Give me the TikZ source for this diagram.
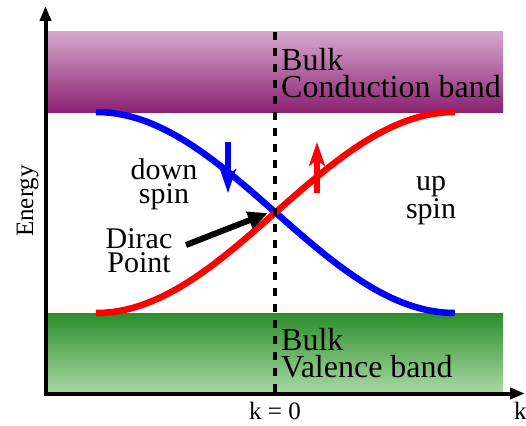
\documentclass[tikz,border=0pt]{standalone}
\usepackage{fontspec}
\setmainfont{Liberation Serif}
\usetikzlibrary{arrows.meta}
\definecolor{cbtop}{HTML}{D6A8CC}
\definecolor{cbbot}{HTML}{8B2173}
\definecolor{vbtop}{HTML}{2A8E2A}
\definecolor{vbbot}{HTML}{A8D8A2}
\definecolor{spinblue}{HTML}{0000FF}
\definecolor{spinred}{HTML}{FF0000}
\tikzset{
  lbl/.style={inner sep=0pt, font=\fontsize{30}{24}\selectfont},
  bandlbl/.style={inner sep=0pt, font=\fontsize{32}{27}\selectfont, align=left},
  axislbl/.style={inner sep=0pt, font=\fontsize{25}{28}\selectfont},
  axis/.style={line width=4pt, -{Triangle[length=15pt,width=11pt]}},
  spincurve/.style={line width=6.5pt},
  spinarrow/.style={line width=5.5pt, -{Stealth[length=24pt,width=16pt,inset=6pt]}},
}
\begin{document}
\begin{tikzpicture}[x=1pt,y=-1pt]
\useasboundingbox (0,0) rectangle (526,425);
% bands
\shade[top color=cbtop, bottom color=cbbot] (48,32) rectangle (503,112);
\shade[top color=vbtop, bottom color=vbbot] (48,313) rectangle (503,392);
% curves
\draw[spincurve, spinblue] plot[domain=0:1, samples=80] ({96+359*\x}, {112+201*(1-cos(180*\x))/2});
\draw[spincurve, spinred] plot[domain=0:1, samples=80] ({96+359*\x}, {313-201*(1-cos(180*\x))/2});
% k = 0 dashed line
\coordinate (dtop) at (275,32);
\coordinate (dbot) at (275,394);
\draw[line width=4pt, dash pattern=on 8pt off 8pt] (dtop) -- (dbot);
% axes
\coordinate (ytip) at (45.5,6);
\coordinate (xtip) at (525,393.5);
\draw[axis] (45.5,395.5) -- (ytip);
\draw[axis] (43.5,393.5) -- (xtip);
% spin arrows
\coordinate (bs) at (228,142);
\coordinate (be) at (228,193);
\coordinate (rs) at (317,193);
\coordinate (re) at (317,142);
\draw[spinarrow, spinblue] (bs) -- (be);
\draw[spinarrow, spinred] (rs) -- (re);
% labels (base anchor = baseline of the last line)
\node[bandlbl, anchor=base west] (cb) at (281,97) {Bulk\\Conduction band};
\node[bandlbl, anchor=base west] (vb) at (281,377) {Bulk\\Valence band};
\node[lbl, align=center, anchor=base] (down) at (164,203) {down\\spin};
\node[lbl, align=center, anchor=base] (up) at (431,218) {up\\spin};
\node[lbl, align=center, anchor=base] (dirac) at (139,272) {Dirac\\Point};
\node[axislbl, anchor=base] (k0) at (275,419) {k = 0};
\node[axislbl, anchor=base west] (k) at (514,419) {k};
\node[inner sep=0pt, font=\fontsize{25}{28}\selectfont, rotate=90, anchor=base] (energy) at (33,201) {Energy};
% Dirac arrow
\coordinate (dp) at (268,213);
\draw[line width=6pt, -{Triangle[length=20pt,width=17pt]}] (186,245) -- (dp);
\end{tikzpicture}
\end{document}
